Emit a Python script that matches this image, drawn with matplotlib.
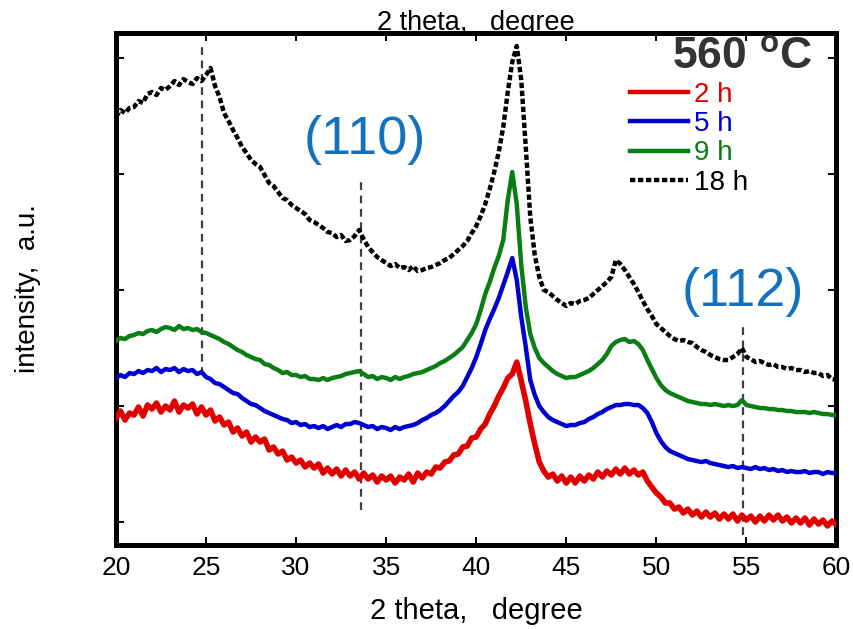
import numpy as np
import matplotlib.pyplot as plt

plt.rcParams['font.family'] = ['Liberation Sans', 'DejaVu Sans']
plt.rcParams['mathtext.fontset'] = 'custom'
plt.rcParams['mathtext.rm'] = 'Liberation Sans'
plt.rcParams['mathtext.bf'] = 'Liberation Sans:bold'

# 2 theta scan, 0.25 degree step
two_theta = np.arange(20, 60.001, 0.25)

# intensities (a.u.) for each annealing time at 560 C
i_2h = [104, 111, 102, 109, 107, 115, 106, 117,
        113, 119, 110, 116, 112, 121, 110, 117,
        114, 118, 108, 115, 107, 112, 101, 105,
        97, 100, 90, 94, 86, 90, 80, 85,
        80, 83, 72, 75, 68, 71, 62, 65,
        59, 62, 55, 59, 54, 58, 49, 54,
        48, 53, 46, 52, 46, 50, 43, 49,
        43, 47, 40, 46, 42, 46, 39, 45,
        42, 48, 40, 49, 44, 50, 48, 55,
        54, 60, 61, 67, 68, 75, 76, 84,
        85, 93, 98, 108, 116, 126, 134, 144,
        148, 160, 141, 121, 98, 78, 60, 51,
        45, 48, 41, 46, 39, 45, 39, 46,
        41, 47, 43, 50, 45, 51, 47, 53,
        48, 54, 48, 52, 47, 50, 41, 35,
        29, 25, 19, 19, 13, 15, 9, 13,
        7, 11, 5, 10, 5, 9, 3, 8,
        3, 8, 1, 7, 2, 6, 0, 6,
        1, 7, 2, 7, 1, 5, -1, 4,
        -1, 4, -3, 3, -2, 2, -4, 1,
        -3]

i_5h = [144, 147, 145, 149, 148, 151, 149, 152,
        151, 154, 150, 153, 152, 154, 150, 153,
        151, 152, 148, 150, 145, 143, 139, 138,
        135, 132, 129, 128, 124, 121, 118, 117,
        114, 111, 109, 107, 105, 103, 102, 99,
        100, 97, 98, 95, 96, 94, 96, 93,
        95, 97, 95, 98, 98, 100, 99, 97,
        95, 96, 93, 95, 94, 92, 95, 93,
        95, 96, 97, 99, 102, 104, 107, 109,
        112, 116, 121, 126, 130, 136, 145, 154,
        165, 178, 192, 203, 213, 224, 237, 250,
        264, 242, 205, 175, 142, 127, 116, 110,
        105, 102, 100, 98, 96, 97, 97, 99,
        100, 103, 105, 108, 110, 113, 115, 117,
        117, 118, 118, 117, 117, 114, 109, 100,
        89, 81, 75, 71, 69, 67, 65, 63,
        62, 61, 60, 61, 59, 58, 57, 56,
        55, 56, 54, 55, 54, 53, 55, 53,
        54, 52, 53, 51, 52, 50, 51, 50,
        50, 51, 49, 50, 50, 48, 50, 49,
        49]

i_9h = [181, 184, 183, 186, 187, 189, 188, 191,
        192, 190, 193, 195, 194, 192, 196, 193,
        194, 192, 193, 190, 189, 187, 185, 183,
        180, 178, 175, 172, 170, 167, 165, 163,
        162, 158, 157, 154, 152, 149, 150, 147,
        147, 145, 146, 143, 143, 142, 144, 142,
        144, 145, 146, 148, 149, 150, 151, 148,
        145, 146, 143, 145, 144, 142, 145, 143,
        145, 146, 148, 149, 150, 152, 154, 156,
        159, 161, 164, 167, 171, 175, 182, 189,
        198, 212, 228, 240, 254, 266, 282, 322,
        350, 318, 257, 215, 188, 174, 164, 159,
        155, 151, 148, 146, 144, 145, 145, 147,
        149, 151, 154, 158, 162, 168, 176, 180,
        182, 183, 180, 181, 178, 172, 162, 153,
        144, 137, 132, 129, 127, 125, 123, 121,
        120, 119, 118, 118, 117, 118, 117, 116,
        117, 116, 117, 122, 117, 116, 115, 114,
        114, 113, 113, 112, 112, 111, 111, 110,
        110, 110, 109, 110, 109, 108, 108, 107,
        107]

i_18h = [405, 412, 409, 414, 415, 421, 419, 428,
         430, 427, 434, 432, 436, 441, 437, 443,
         440, 438, 444, 441, 447, 454, 436, 425,
         409, 401, 392, 384, 375, 369, 362, 358,
         355, 347, 339, 336, 330, 324, 322, 317,
         314, 311, 308, 302, 300, 297, 294, 290,
         289, 285, 287, 281, 282, 286, 292, 283,
         275, 270, 265, 262, 259, 256, 258, 254,
         255, 252, 256, 251, 252, 254, 255, 257,
         259, 262, 264, 268, 272, 276, 281, 289,
         296, 306, 318, 333, 350, 370, 395, 430,
         460, 476, 442, 375, 305, 267, 245, 232,
         230, 226, 222, 219, 216, 219, 218, 221,
         222, 224, 228, 232, 236, 240, 245, 262,
         258, 252, 245, 238, 230, 221, 213, 206,
         198, 194, 190, 186, 183, 181, 182, 180,
         179, 175, 172, 170, 167, 165, 163, 162,
         162, 165, 168, 174, 165, 163, 160, 161,
         159, 157, 158, 155, 155, 153, 154, 152,
         152, 150, 151, 149, 149, 146, 147, 143,
         142]

labels = ['2 h', '5 h', '9 h', '18 h']
colors = ['#e00000', '#0000d0', '#0a7d14', 'black']

# reflection markers: position and vertical extent
ref_pos = [24.8, 33.6, 54.8]
ref_lo = [147, 12, -13]
ref_hi = [479, 345, 195]
hkl_text = ['(110)', '(112)']
hkl_pos = [(33.8, 382), (54.8, 230)]


fig = plt.figure(figsize=(8.54, 6.29), dpi=100)
ax = fig.add_axes([0.1358, 0.1335, 0.8437, 0.814])

curves = [i_2h, i_5h, i_9h, i_18h]
for y, lab, c in zip(curves, labels, colors):
    if lab == '18 h':
        ax.plot(two_theta, y, color=c, linewidth=3.2, linestyle=(0, (1.2, 0.6)),
                label=lab, zorder=3)
    elif lab == '2 h':
        ax.plot(two_theta, y, color=c, linewidth=4, label=lab, zorder=3)
    else:
        ax.plot(two_theta, y, color=c, linewidth=3.2, label=lab, zorder=3)

for x0, lo, hi in zip(ref_pos, ref_lo, ref_hi):
    ax.plot([x0, x0], [lo, hi], color='#404040', linewidth=1.6,
            linestyle=(0, (3.5, 2.5)), zorder=2)

for t, (x0, y0) in zip(hkl_text, hkl_pos):
    ax.text(x0, y0, t, color='#1272bf', fontsize=39, ha='center', va='center')

ax.text(0.966, 0.993, r'560 $^{\mathbf{o}}$C', transform=ax.transAxes,
        ha='right', va='top', fontsize=32, fontweight='bold', color='#333333')

leg = ax.legend(loc='upper left', bbox_to_anchor=(0.713, 0.905), frameon=False,
                fontsize=20, labelcolor='linecolor', handlelength=2.1,
                handletextpad=0.2, labelspacing=0.12, borderpad=0, borderaxespad=0)
for line in leg.get_lines():
    line.set_linewidth(3.2)

ax.set_xlim(20, 60)
ax.set_ylim(-23, 489)
ax.set_xticks(np.arange(20, 61, 5))
ax.set_yticks(np.arange(0, 489, 116))
ax.set_yticklabels([])
ax.tick_params(direction='in', length=6, width=1.4, top=True, right=True,
               labelsize=19, pad=8)
for s in ax.spines.values():
    s.set_linewidth(3.6)

ax.set_xlabel('2 theta,   degree', fontsize=21, labelpad=12)
ax.set_ylabel('intensity,  a.u.', fontsize=20, labelpad=46)
ax.set_title('2 theta,   degree', fontsize=19.5, pad=2)

plt.savefig('out.png', dpi=100)
